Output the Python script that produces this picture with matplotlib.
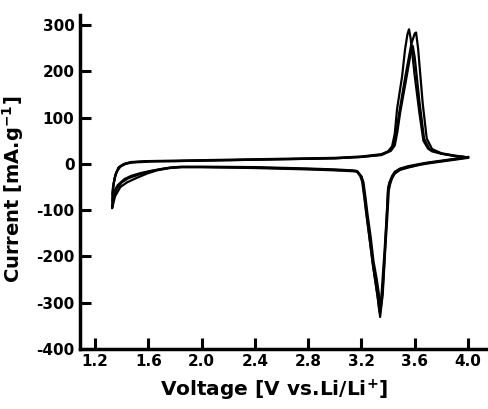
#!/usr/bin/env python3
"""
Cyclic voltammetry curves, three cycles
"""

import matplotlib
matplotlib.use("Agg")
import matplotlib.pyplot as plt

# Cycle 1 - cathodic sweep (4.0 V -> 1.33 V)
v_cat_1 = [4.00, 3.90, 3.80, 3.70, 3.64, 3.55, 3.49, 3.45, 3.43, 3.41, 3.40, 3.39, 3.377,
           3.355, 3.34, 3.325, 3.31, 3.287, 3.265, 3.24, 3.225, 3.21, 3.20, 3.17, 3.14,
           3.00, 2.80, 2.40, 2.00, 1.85, 1.76, 1.665, 1.59, 1.515, 1.44, 1.39, 1.35, 1.328]
i_cat_1 = [14, 10, 6, 2, -1, -7, -12, -20, -29, -42, -55, -113, -185,
           -293, -331, -293, -265, -221, -170, -113, -75, -40, -28, -16, -15,
           -13, -11, -8, -7, -7, -9, -14, -21, -30, -40, -50, -70, -96]
# Cycle 1 - anodic sweep (1.33 V -> 4.0 V)
v_an_1 = [1.328, 1.33, 1.335, 1.35, 1.375, 1.41, 1.46, 1.59, 1.80, 2.20, 2.60, 3.00,
          3.20, 3.35, 3.40, 3.43, 3.45, 3.467, 3.505, 3.527, 3.545, 3.557, 3.57, 3.60,
          3.635, 3.665, 3.70, 3.73, 3.80, 3.90, 4.00]
i_an_1 = [-96, -75, -50, -27, -8, -1, 3, 6, 6, 8, 10, 12,
          15, 20, 27, 38, 65, 118, 189, 247, 280, 291, 270, 190,
          110, 50, 33, 27, 22, 17, 14]

# Cycle 2
v_cat_2 = [4.00, 3.90, 3.80, 3.70, 3.64, 3.55, 3.49, 3.45, 3.43, 3.41, 3.40, 3.39, 3.375,
           3.35, 3.335, 3.32, 3.305, 3.283, 3.26, 3.235, 3.22, 3.205, 3.19, 3.16, 3.13,
           3.00, 2.80, 2.40, 2.00, 1.85, 1.76, 1.68, 1.60, 1.52, 1.45, 1.40, 1.36, 1.33]
i_cat_2 = [15, 11, 7, 3, 0, -5, -10, -17, -26, -40, -52, -108, -180,
           -285, -320, -285, -255, -212, -160, -105, -70, -38, -26, -15, -14,
           -12, -10, -7, -6, -6, -8, -12, -17, -24, -31, -40, -55, -80]
v_an_2 = [1.33, 1.333, 1.34, 1.355, 1.38, 1.42, 1.47, 1.60, 1.80, 2.20, 2.60, 3.00,
          3.20, 3.35, 3.41, 3.44, 3.46, 3.48, 3.53, 3.575, 3.60, 3.61, 3.625, 3.66,
          3.69, 3.73, 3.80, 3.90, 4.00]
i_an_2 = [-80, -62, -42, -22, -7, 0, 4, 6, 7, 9, 11, 13,
          16, 21, 28, 38, 65, 105, 190, 260, 282, 284, 250, 130,
          55, 32, 23, 18, 14]

# Cycle 3
v_cat_3 = [4.00, 3.90, 3.80, 3.70, 3.64, 3.55, 3.49, 3.45, 3.43, 3.415, 3.405, 3.395, 3.38,
           3.36, 3.345, 3.33, 3.315, 3.29, 3.27, 3.245, 3.23, 3.215, 3.20, 3.17, 3.14,
           3.00, 2.80, 2.40, 2.00, 1.85, 1.78, 1.70, 1.62, 1.54, 1.47, 1.42, 1.37, 1.33]
i_cat_3 = [13, 9, 5, 1, -2, -8, -13, -21, -31, -44, -58, -110, -178,
           -280, -310, -280, -250, -210, -160, -108, -72, -40, -27, -17, -16,
           -14, -12, -9, -7, -7, -8, -11, -15, -20, -26, -33, -46, -66]
v_an_3 = [1.33, 1.335, 1.345, 1.36, 1.39, 1.43, 1.48, 1.62, 1.80, 2.20, 2.60, 3.00,
          3.20, 3.35, 3.42, 3.45, 3.47, 3.49, 3.54, 3.57, 3.585, 3.60, 3.635, 3.67,
          3.71, 3.80, 3.90, 4.00]
i_an_3 = [-66, -50, -33, -18, -6, 0, 3, 5, 6, 8, 10, 12,
          15, 19, 28, 40, 70, 110, 190, 240, 255, 230, 135, 55,
          32, 22, 17, 14]

cycles = [
    (v_cat_1, i_cat_1, v_an_1, i_an_1),
    (v_cat_2, i_cat_2, v_an_2, i_an_2),
    (v_cat_3, i_cat_3, v_an_3, i_an_3),
]

x_ticks = [1.2, 1.6, 2.0, 2.4, 2.8, 3.2, 3.6, 4.0]
y_ticks = [-400, -300, -200, -100, 0, 100, 200, 300]

plt.rcParams['font.family'] = ['DejaVu Sans']
plt.rcParams['font.weight'] = 'bold'

fig = plt.figure(figsize=(4.88, 4.09), dpi=100)
ax = fig.add_axes([0.164, 0.147, 0.836, 0.816])

for v_cat, i_cat, v_an, i_an in cycles:
    ax.plot(v_cat + v_an, i_cat + i_an, color='black', linewidth=1.6,
            solid_joinstyle='round')

ax.set_xlim(1.087, 4.15)
ax.set_ylim(-400, 321.6)
ax.set_xticks(x_ticks)
ax.set_xticklabels([f'{t:.1f}' for t in x_ticks])
ax.set_yticks(y_ticks)
ax.set_yticklabels([str(t) for t in y_ticks])

for side in ['top', 'right']:
    ax.spines[side].set_visible(False)
for side in ['left', 'bottom']:
    ax.spines[side].set_linewidth(2.5)

ax.tick_params(direction='in', length=8, width=2.2, labelsize=11, pad=4)
for lbl in ax.get_xticklabels() + ax.get_yticklabels():
    lbl.set_fontweight('bold')

ax.set_xlabel('Voltage [V vs.Li/Li$^{\\mathbf{+}}$]', fontsize=14.5, fontweight='bold')
ax.set_ylabel('Current [mA.g$^{\\mathbf{-1}}$]', fontsize=14, fontweight='bold')
ax.xaxis.set_label_coords(0.475, -0.085)
ax.yaxis.set_label_coords(-0.132, 0.479)

plt.savefig('out.png', dpi=100)
